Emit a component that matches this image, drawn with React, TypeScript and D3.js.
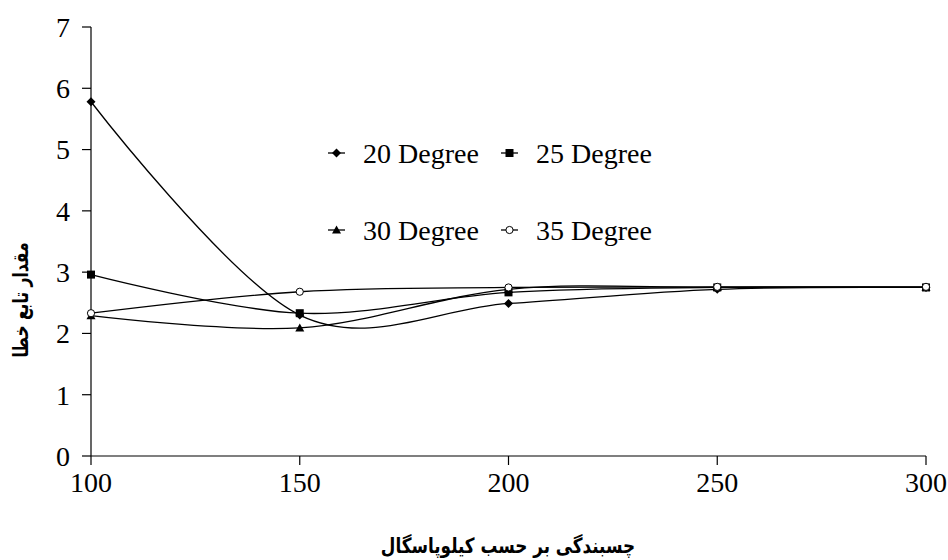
import React from "react";
import * as d3 from "d3";

const xValues = [100, 150, 200, 250, 300];
const series20 = [5.78, 2.3, 2.49, 2.72, 2.75];
const series25 = [2.96, 2.33, 2.67, 2.75, 2.75];
const series30 = [2.29, 2.09, 2.72, 2.75, 2.75];
const series35 = [2.33, 2.68, 2.75, 2.76, 2.76];
const seriesNames = ["20 Degree", "25 Degree", "30 Degree", "35 Degree"];
const yTicks = [0, 1, 2, 3, 4, 5, 6, 7];
const xTicks = [100, 150, 200, 250, 300];
const xTitle = "چسبندگی بر حسب کیلوپاسگال";
const yTitle = "مقدار تابع خطا";

const W = 948, H = 560;
const M = { left: 91, top: 27, right: 22, bottom: 104 };
const SERIF = "'Liberation Serif', 'Times New Roman', Times, serif";

function Marker({ kind, x, y }: { kind: number; x: number; y: number }) {
  if (kind === 0) {
    const s = 4.5;
    return <path d={`M${x},${y - s}L${x + s},${y}L${x},${y + s}L${x - s},${y}Z`} fill="#000" />;
  }
  if (kind === 1) {
    const s = 4;
    return <rect x={x - s} y={y - s} width={2 * s} height={2 * s} fill="#000" />;
  }
  if (kind === 2) {
    const s = 4.5;
    return <path d={`M${x},${y - s}L${x + s},${y + s * 0.8}L${x - s},${y + s * 0.8}Z`} fill="#000" />;
  }
  return <circle cx={x} cy={y} r={3.6} fill="#fff" stroke="#000" strokeWidth={1} />;
}

export default function App() {
  const x = d3.scaleLinear().domain([100, 300]).range([M.left, W - M.right]);
  const y = d3.scaleLinear().domain([0, 7]).range([H - M.bottom, M.top]);
  const all = [series20, series25, series30, series35];
  const line = d3
    .line<number>()
    .x((_, i) => x(xValues[i]))
    .y((d) => y(d))
    .curve(d3.curveCardinal.tension(0));

  const legendItems = [
    { lx: 328, ly: 153 },
    { lx: 501, ly: 153 },
    { lx: 328, ly: 230 },
    { lx: 501, ly: 230 },
  ];

  return (
    <svg width={W} height={H} style={{ position: "absolute", left: 0, top: 0, background: "#fff" }}>
      <rect width={W} height={H} fill="#fff" />
      {/* axes */}
      <line x1={M.left} x2={M.left} y1={M.top} y2={y(0)} stroke="#000" strokeWidth={1.2} />
      <line x1={M.left} x2={W - M.right} y1={y(0)} y2={y(0)} stroke="#000" strokeWidth={1.2} />
      {yTicks.map((t) => (
        <g key={"y" + t}>
          <line x1={M.left - 9} x2={M.left} y1={y(t)} y2={y(t)} stroke="#000" strokeWidth={1.2} />
          <text x={70} y={y(t)} dy="0.35em" textAnchor="end" fontFamily={SERIF} fontSize={28}>
            {t}
          </text>
        </g>
      ))}
      {xTicks.map((t) => (
        <g key={"x" + t}>
          <line x1={x(t)} x2={x(t)} y1={y(0)} y2={y(0) + 9} stroke="#000" strokeWidth={1.2} />
          <text x={x(t)} y={y(0) + 36} textAnchor="middle" fontFamily={SERIF} fontSize={28}>
            {t}
          </text>
        </g>
      ))}
      {/* series */}
      {all.map((s, k) => (
        <path key={"l" + k} d={line(s) || ""} fill="none" stroke="#000" strokeWidth={1.3} />
      ))}
      {all.map((s, k) =>
        s.map((v, i) => <Marker key={"m" + k + "_" + i} kind={k} x={x(xValues[i])} y={y(v)} />)
      )}
      {/* legend */}
      {legendItems.map((it, k) => (
        <g key={"lg" + k}>
          <line x1={it.lx} x2={it.lx + 17} y1={it.ly} y2={it.ly} stroke="#000" strokeWidth={1.3} />
          <Marker kind={k} x={it.lx + 8.5} y={it.ly} />
          <text x={it.lx + 35} y={it.ly} dy="0.35em" fontFamily={SERIF} fontSize={28}>
            {seriesNames[k]}
          </text>
        </g>
      ))}
      {/* titles */}
      <g transform="translate(508,553) scale(0.8,1)">
        <text x={0} y={0} direction="rtl" textAnchor="middle" fontFamily="DejaVu Sans" fontWeight="bold" fontSize={21}>
          {xTitle}
        </text>
      </g>
      <g transform={`translate(21,${300}) rotate(-90) scale(0.74,1)`}>
        <text
          x={0}
          y={0}
          direction="rtl"
          textAnchor="middle"
          dy="0.35em"
          fontFamily="DejaVu Sans"
          fontWeight="bold"
          fontSize={21}
        >
          {yTitle}
        </text>
      </g>
    </svg>
  );
}
